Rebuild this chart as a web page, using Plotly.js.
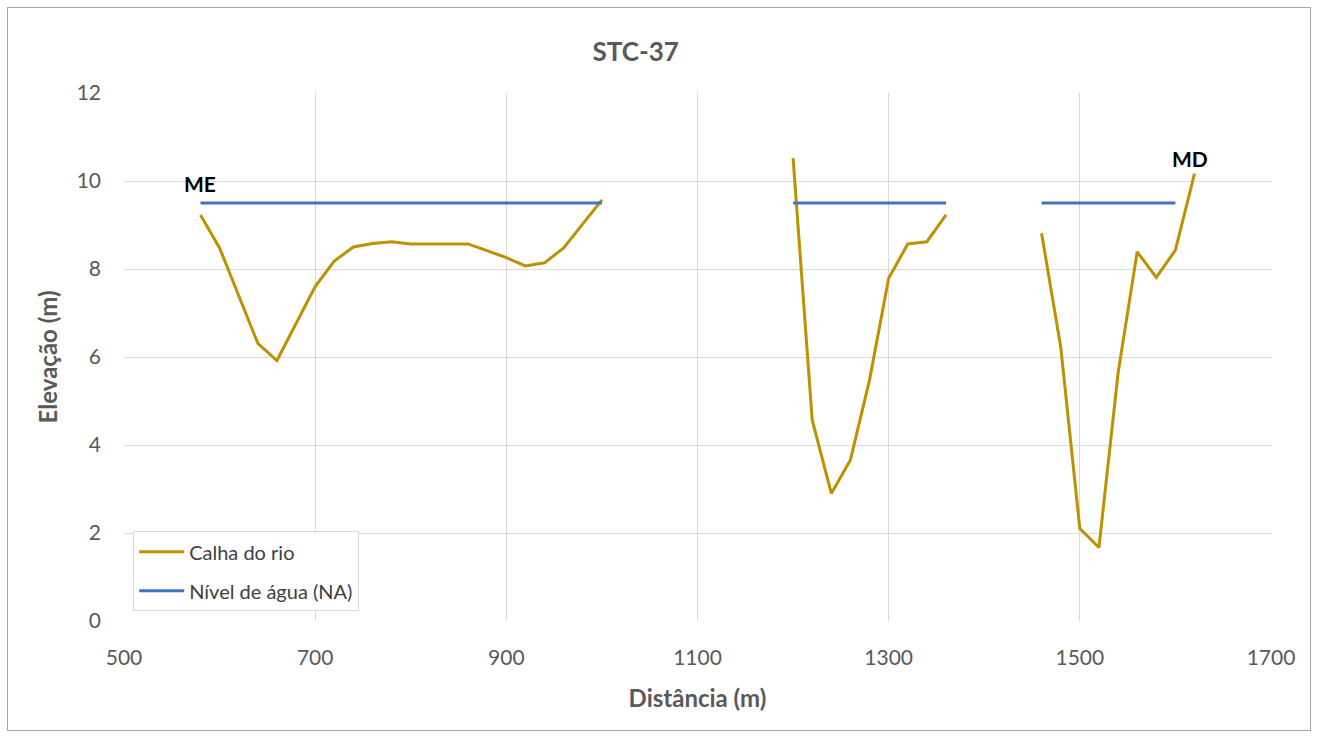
<!DOCTYPE html>
<html>
<head>
<meta charset="utf-8">
<script src="https://cdn.plot.ly/plotly-3.0.1.min.js"></script>
<style>
html,body{margin:0;padding:0;background:#fff;}
#chart{width:1319px;height:738px;}
#frame{position:absolute;left:7px;top:7px;width:1304px;height:724px;border:1px solid #a6a6a6;pointer-events:none;box-sizing:border-box;}
</style>
</head>
<body>
<div id="chart"></div>
<div id="frame"></div>
<script>
// Calha do rio (river bed), three sections separated by gaps (null)
const distCalha = [580,600,640,660,700,720,740,760,780,800,820,840,860,900,920,940,960,1000,
  null,
  1200,1220,1240,1260,1280,1300,1320,1340,1360,
  null,
  1460,1480,1500,1520,1540,1560,1580,1600,1620];
const elevCalha = [9.23,8.48,6.31,5.92,7.6,8.18,8.5,8.58,8.62,8.57,8.57,8.57,8.57,8.26,8.07,8.14,8.48,9.57,
  null,
  10.52,4.57,2.9,3.66,5.48,7.79,8.57,8.62,9.23,
  null,
  8.81,6.23,2.1,1.67,5.63,8.39,7.81,8.43,10.17];

// Nível de água (NA)
const distNA = [580,1000,null,1200,1360,null,1460,1600];
const elevNA = [9.5,9.5,null,9.5,9.5,null,9.5,9.5];

const xTicks = [500,700,900,1100,1300,1500,1700];
const yTicks = [0,2,4,6,8,10,12];

const labels = [{text:'ME', x:580, y:9.95},{text:'MD', x:1615, y:10.52}];

const font = 'Lato, "Open Sans", sans-serif';
const gray = '#595959';

const traces = [
  {x:distCalha, y:elevCalha, mode:'lines', name:'Calha do rio', connectgaps:false, legendgroup:'a',
   line:{color:'#BF9000', width:3}},
  {x:distNA, y:elevNA, mode:'lines', name:'Nível de água (NA)', connectgaps:false, legendgroup:'b',
   line:{color:'#4472C4', width:3}}
];

const layout = {
  width:1319, height:738,
  margin:{l:124, r:48, t:93, b:117},
  paper_bgcolor:'#fff', plot_bgcolor:'#fff',
  font:{family:font, color:gray, size:21},
  title:{text:'<b>STC-37</b>', x:0.482, xanchor:'center', y:0.9295, yanchor:'middle',
         font:{family:font, size:26, color:gray}},
  xaxis:{range:[500,1700], tickvals:xTicks, ticktext:xTicks.map(String),
         showgrid:true, gridcolor:'#d9d9d9', gridwidth:1, zeroline:false,
         showline:false, ticks:'', tickfont:{size:21, color:gray}, ticklabelstandoff:22,
         automargin:false,
         title:{text:'<b>Distância (m)</b>', font:{size:24, color:gray}, standoff:22}},
  yaxis:{range:[0,12], tickvals:yTicks, ticktext:yTicks.map(String),
         showgrid:true, gridcolor:'#d9d9d9', gridwidth:1, zeroline:false,
         showline:false, ticks:'', tickfont:{size:21, color:gray}, ticklabelstandoff:22,
         automargin:false,
         title:{text:'<b>Elevação (m)</b>', font:{size:24, color:gray}, standoff:12}},
  legend:{x:0.008, y:0.17, xanchor:'left', yanchor:'top',
          bgcolor:'#fff', bordercolor:'#d9d9d9', borderwidth:1,
          font:{size:20, color:'#404040'}, tracegroupgap:10, itemwidth:45},
  annotations: labels.map(l => ({x:l.x, y:l.y, text:'<b>'+l.text+'</b>', showarrow:false,
     xref:'x', yref:'y', font:{size:21, color:'#000'}, xanchor:'center', yanchor:'middle'}))
};

Plotly.newPlot('chart', traces, layout, {displayModeBar:false, staticPlot:true});
</script>
</body>
</html>
